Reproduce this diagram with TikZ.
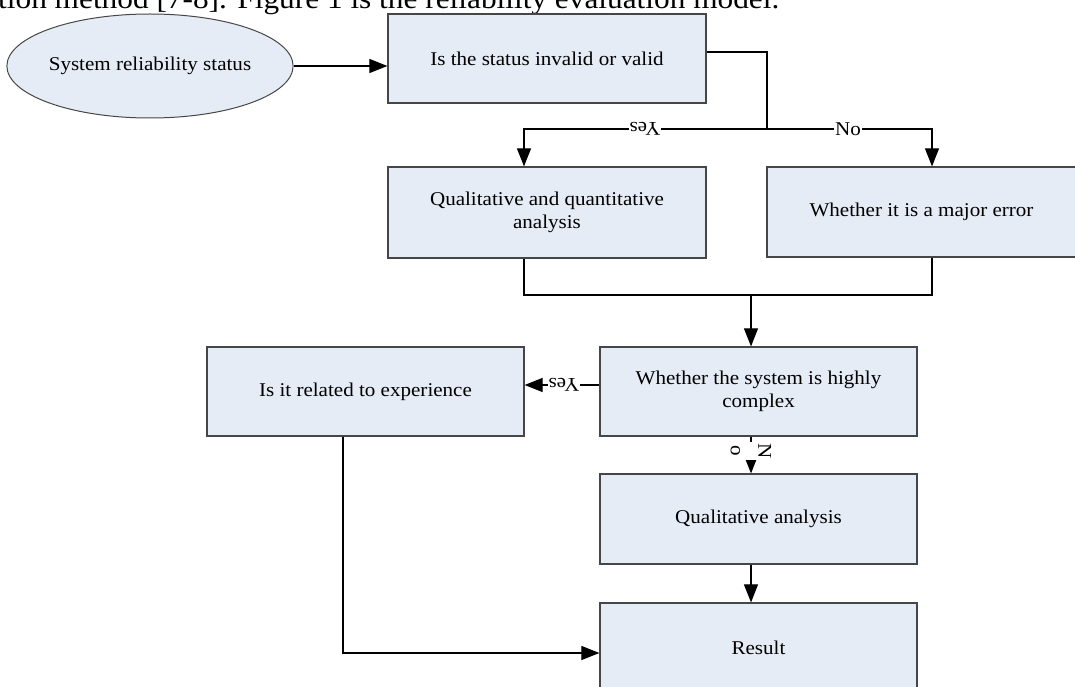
\documentclass[tikz,border=0pt]{standalone}
\usepackage{fontspec}
\setmainfont{Liberation Serif}[FakeStretch=1.08]
\usetikzlibrary{arrows.meta,shapes.geometric}
\definecolor{boxfill}{RGB}{230,236,246}
\definecolor{boxline}{RGB}{70,70,70}
\begin{document}
\begin{tikzpicture}[x=1pt,y=-1pt,
  txt/.style={font=\fontsize{19.5}{23.5}\selectfont},
  box/.style={txt, draw=boxline, line width=1.2pt, fill=boxfill, rectangle,
    minimum width=317pt, minimum height=89pt, inner sep=0pt, align=center},
  conn/.style={line width=1.1pt, black},
  arr/.style={conn, -{Triangle[length=18pt,width=14pt]}},
  lbl/.style={txt, fill=white, inner sep=1pt}]
\useasboundingbox (0,0) rectangle (1075,687);
\clip (0,0) rectangle (1075,687);

\node[anchor=base west, inner sep=0pt, font=\fontsize{29}{32}\selectfont] (cap) at (-2,9)
  {tion method [7-8]. Figure 1 is the reliability evaluation model.};

\node[txt, ellipse, draw=boxline, fill=boxfill, line width=1pt,
  minimum width=280pt, minimum height=104pt, inner sep=0pt] (s) at (150,66) {System reliability status};
\node[box, minimum width=318pt] (b1) at (547,58.5) {Is the status invalid or valid};
\node[box, minimum width=318pt, minimum height=91pt] (b2) at (547,212.5) {Qualitative and quantitative\\analysis};
\node[box, minimum width=309pt, minimum height=90pt] (b3) at (921.5,212) {Whether it is a major error};
\node[box] (b4) at (758.5,391.5) {Whether the system is highly\\complex};
\node[box] (b5) at (365.5,391.5) {Is it related to experience};
\node[box, minimum height=90pt] (b6) at (758.5,519) {Qualitative analysis};
\node[box] (b7) at (758.5,647.5) {Result};

\coordinate (j1) at (767,129);
\coordinate (j2) at (751,295);

\draw[arr] (s.east) -- (s.east -| b1.west);
\draw[conn] ([yshift=6.5pt]b1.east) -| (j1);
\draw[arr] (j1) -| ([xshift=-23pt]b2.north);
\draw[arr] (j1) -| ([xshift=10.5pt]b3.north);
\node[lbl, rotate=180] (yes1) at (645,129) {Yes};
\node[lbl] (no1) at (848,129) {No};

\draw[conn] ([xshift=-23pt]b2.south) |- (j2);
\draw[conn] ([xshift=10.5pt]b3.south) |- (j2);
\draw[arr] (j2) -- (j2 |- b4.north);

\draw[arr] ([yshift=6.5pt]b4.west) -- ([yshift=6.5pt]b5.east);
\node[lbl, rotate=180] (yes2) at (564,385) {Yes};

\draw[arr] ([xshift=-7.5pt]b4.south) -- ([xshift=-7.5pt]b6.north);
\node[lbl, rotate=-90, align=center, fill=white] (no2) at (751,451) {N\\[4pt]o};

\draw[arr] ([xshift=-7.5pt]b6.south) -- ([xshift=-7.5pt]b7.north);
\draw[arr] ([xshift=-22.5pt]b5.south) |- ([yshift=-5.5pt]b7.west);
\end{tikzpicture}
\end{document}
